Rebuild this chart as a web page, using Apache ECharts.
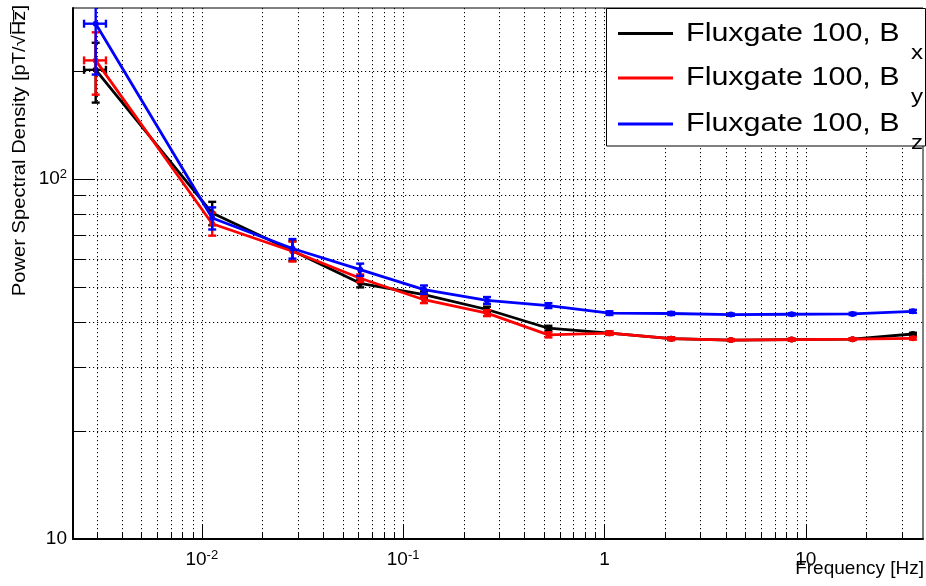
<!DOCTYPE html>
<html>
<head>
<meta charset="utf-8">
<script src="https://cdn.jsdelivr.net/npm/echarts@6/dist/echarts.min.js"></script>
<style>
html,body{margin:0;padding:0;background:#fff;}
#chart{width:926px;height:586px;}
</style>
</head>
<body>
<div id="chart"></div>
<script>
// ---- data ----
const freq    = [0.00297, 0.01126, 0.0282, 0.0612, 0.127, 0.261, 0.527, 1.059, 2.146, 4.25, 8.52, 17.09, 34.1];
const freqErr = [0.00037, 0, 0, 0, 0, 0, 0, 0, 0, 0, 0, 0, 0];
const bx      = [201, 80.4, 63.2, 51.3, 47.7, 43.4, 38.5, 37.3, 36.0, 35.7, 35.8, 35.9, 37.1];
const bxErr   = [38, 6, 4, 1.3, 1.0, 0.8, 0.6, 0.4, 0.3, 0.2, 0.2, 0.2, 0.3];
const by      = [213.5, 75.1, 63.0, 53.0, 46.2, 42.4, 36.9, 37.3, 36.0, 35.7, 35.8, 35.9, 36.1];
const byErr   = [42, 5.5, 4, 1.3, 1.0, 0.8, 0.6, 0.4, 0.3, 0.2, 0.2, 0.2, 0.3];
const bz      = [270, 77.9, 64.1, 56.0, 49.3, 46.0, 44.5, 42.4, 42.3, 42.0, 42.1, 42.2, 42.9];
const bzErr   = [75, 5.5, 4, 2.2, 1.3, 1.0, 0.7, 0.5, 0.4, 0.3, 0.3, 0.3, 0.4];

const seriesNames = ['Fluxgate 100, Bx', 'Fluxgate 100, By', 'Fluxgate 100, Bz'];
const legendMain  = ['Fluxgate 100, B', 'Fluxgate 100, B', 'Fluxgate 100, B'];
const legendSub   = ['x', 'y', 'z'];
const colors      = ['#000000', '#ff0000', '#0000ff'];

const xTickValues = [0.01, 0.1, 1, 10];
const xTickLabels = ['10{sup|-2}', '10{sup|-1}', '1', '10'];
const yTickValues = [10, 100];
const yTickLabels = ['10', '10{sup|2}'];

const X_MIN = 0.002291, X_MAX = 38.25;
const Y_MIN = 10, Y_MAX = 298.5;

const xTitle = 'Frequency [Hz]';
const yTitle = 'Power Spectral Density [pT/\u221AH\u0305z\u0305]';

// ---- grid (minor) tick positions ----
function logTicks(lo, hi) {
  const out = [];
  for (let e = Math.floor(Math.log10(lo)); e <= Math.ceil(Math.log10(hi)); e++) {
    for (let m = 1; m <= 9; m++) {
      const v = m * Math.pow(10, e);
      if (v > lo * 1.0001 && v < hi * 0.9999) out.push(v);
    }
  }
  return out;
}
const xGrid = logTicks(X_MIN, X_MAX);
const yGrid = logTicks(Y_MIN, Y_MAX).concat([Y_MIN]);
function isDecade(v) { const l = Math.log10(v); return Math.abs(l - Math.round(l)) < 1e-6; }
function lookup(vals, labels) {
  return function (v) {
    for (let i = 0; i < vals.length; i++) if (Math.abs(Math.log10(v / vals[i])) < 1e-6) return labels[i];
    return '';
  };
}

const FONT = 'Liberation Sans';
const chart = echarts.init(document.getElementById('chart'), null, {renderer: 'canvas'});

function gridX(params, api) {
  const v = api.value(0);
  const p = api.coord([v, Y_MIN]);
  const cs = params.coordSys;
  const x = Math.round(p[0]) + 0.5;
  const len = isDecade(v) ? 14 : 7;
  return {type: 'group', children: [
    {type: 'line', shape: {x1: x, y1: cs.y, x2: x, y2: cs.y + cs.height}, style: {stroke: '#000', lineWidth: 1, lineDash: [1.2, 2.8]}},
    {type: 'line', shape: {x1: x, y1: cs.y + cs.height, x2: x, y2: cs.y + cs.height - len}, style: {stroke: '#000', lineWidth: 1}}
  ]};
}
function gridY(params, api) {
  const v = api.value(1);
  const p = api.coord([X_MIN, v]);
  const cs = params.coordSys;
  const y = Math.round(p[1]) + 0.5;
  const len = isDecade(v) ? 22 : 12;
  return {type: 'group', children: [
    {type: 'line', shape: {x1: cs.x, y1: y, x2: cs.x + cs.width, y2: y}, style: {stroke: '#000', lineWidth: 1, lineDash: [1.2, 2.8]}},
    {type: 'line', shape: {x1: cs.x, y1: y, x2: cs.x + len, y2: y}, style: {stroke: '#000', lineWidth: 1}}
  ]};
}
function errRender(color) {
  return function (params, api) {
    const x = api.value(0), y = api.value(1), xe = api.value(2), ye = api.value(3);
    const c = api.coord([x, y]);
    const t = api.coord([x, y + ye]);
    const b = api.coord([x, y - ye]);
    const st = {stroke: color, lineWidth: 2.4};
    const ch = [
      {type: 'line', shape: {x1: c[0], y1: t[1], x2: c[0], y2: b[1]}, style: st},
      {type: 'line', shape: {x1: c[0] - 4, y1: t[1], x2: c[0] + 4, y2: t[1]}, style: st},
      {type: 'line', shape: {x1: c[0] - 4, y1: b[1], x2: c[0] + 4, y2: b[1]}, style: st}
    ];
    if (xe > 0) {
      const l = api.coord([x - xe, y]);
      const r = api.coord([x + xe, y]);
      ch.push({type: 'line', shape: {x1: l[0], y1: c[1], x2: r[0], y2: c[1]}, style: st});
      ch.push({type: 'line', shape: {x1: l[0], y1: c[1] - 4, x2: l[0], y2: c[1] + 4}, style: st});
      ch.push({type: 'line', shape: {x1: r[0], y1: c[1] - 4, x2: r[0], y2: c[1] + 4}, style: st});
    }
    return {type: 'group', children: ch};
  };
}

const vals = [bx, by, bz];
const errs = [bxErr, byErr, bzErr];
const series = [
  {type: 'custom', silent: true, z: 1, renderItem: gridX, data: xGrid.map(v => [v, Y_MIN])},
  {type: 'custom', silent: true, z: 1, renderItem: gridY, data: yGrid.map(v => [X_MIN, v])}
];
for (let k = 0; k < 3; k++) {
  series.push({
    name: seriesNames[k], type: 'line', z: 3 + k, clip: true,
    data: freq.map((f, i) => [f, vals[k][i]]),
    symbol: 'circle', symbolSize: 6, showSymbol: true,
    itemStyle: {color: colors[k]},
    lineStyle: {color: colors[k], width: 2.8}
  });
  series.push({
    type: 'custom', silent: true, z: 3 + k, clip: true,
    renderItem: errRender(colors[k]),
    data: freq.map((f, i) => [f, vals[k][i], freqErr[i], errs[k][i]])
  });
}

const legendGraphics = [
  {type: 'rect', z: 100, shape: {x: 606.5, y: 8.5, width: 319, height: 137.5}, style: {fill: '#fff', stroke: '#000', lineWidth: 1}}
];
const rowY = [33.5, 78, 124];
for (let k = 0; k < 3; k++) {
  legendGraphics.push({type: 'line', z: 101, shape: {x1: 618, y1: rowY[k], x2: 673, y2: rowY[k]}, style: {stroke: colors[k], lineWidth: 3}});
  legendGraphics.push({type: 'text', z: 101, x: 686, y: rowY[k] + 0.5, scaleX: 1.22,
    style: {text: legendMain[k], font: '25px "' + FONT + '"', fill: '#000', textAlign: 'left', textVerticalAlign: 'middle', align: 'left', verticalAlign: 'middle'}});
  legendGraphics.push({type: 'text', z: 102, x: 911, y: rowY[k] + 19.5, scaleX: 1.15,
    style: {text: legendSub[k], font: '21px "' + FONT + '"', fill: '#000', textAlign: 'left', textVerticalAlign: 'middle', align: 'left', verticalAlign: 'middle'}});
}

const option = {
  animation: false,
  backgroundColor: '#fff',
  grid: {left: 73, right: 0, top: 8, bottom: 47, show: true, borderColor: '#000', borderWidth: 1, backgroundColor: 'transparent'},
  xAxis: {
    type: 'log', logBase: 10, min: X_MIN, max: X_MAX,
    axisLine: {onZero: false, lineStyle: {color: '#000', width: 2}},
    axisTick: {show: false}, splitLine: {show: false},
    axisLabel: {
      formatter: lookup(xTickValues, xTickLabels), margin: 10,
      fontSize: 19, fontFamily: FONT, color: '#000', lineHeight: 22,
      rich: {sup: {fontSize: 13, fontFamily: FONT, color: '#000', lineHeight: 8, verticalAlign: 'top'}}
    }
  },
  yAxis: {
    type: 'log', logBase: 10, min: Y_MIN, max: Y_MAX,
    axisLine: {onZero: false, lineStyle: {color: '#000', width: 2}},
    axisTick: {show: false}, splitLine: {show: false},
    axisLabel: {
      formatter: lookup(yTickValues, yTickLabels), margin: 6,
      fontSize: 19, fontFamily: FONT, color: '#000', lineHeight: 22,
      rich: {sup: {fontSize: 13, fontFamily: FONT, color: '#000', lineHeight: 8, verticalAlign: 'top'}}
    }
  },
  graphic: [
    {type: 'text', z: 50, x: 924, y: 569,
      style: {text: xTitle, font: '19px "' + FONT + '"', fill: '#000', textAlign: 'right', textVerticalAlign: 'middle', align: 'right', verticalAlign: 'middle'}},
    {type: 'text', z: 50, x: 20, y: 5, rotation: Math.PI / 2, scaleX: 1.12,
      style: {text: yTitle, font: '18px "' + FONT + '"', fill: '#000', textAlign: 'right', textVerticalAlign: 'middle', align: 'right', verticalAlign: 'middle'}}
  ].concat(legendGraphics),
  series: series
};
chart.setOption(option);
</script>
</body>
</html>
